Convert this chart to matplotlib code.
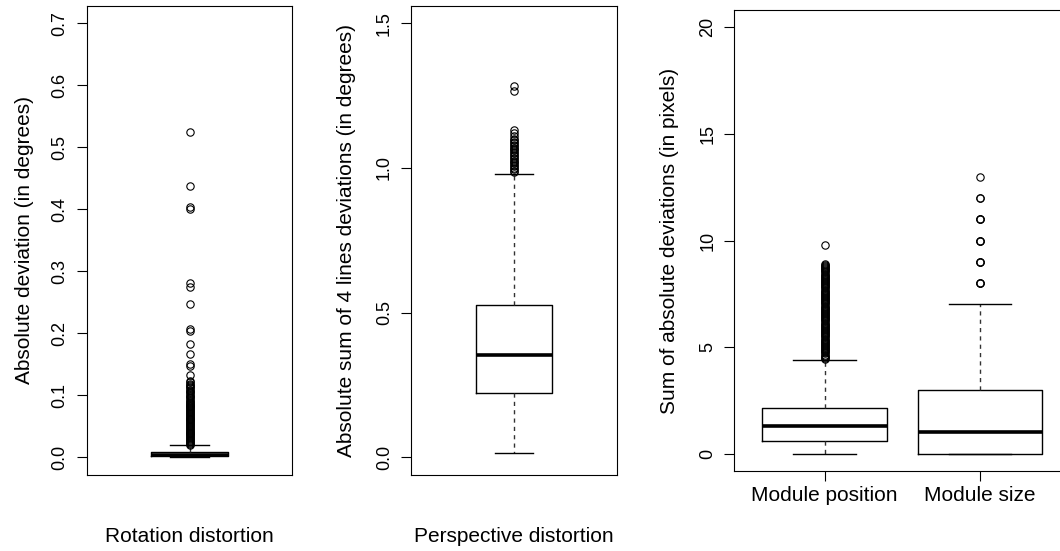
import matplotlib
matplotlib.use("Agg")
import matplotlib.pyplot as plt

plt.rcParams["font.family"] = ["Liberation Sans", "DejaVu Sans"]

# ---- data ----
rot_label = "Rotation distortion"
rot_ylabel = "Absolute deviation (in degrees)"
rot_box = [0.002, 0.0045, 0.009]          # q1, median, q3
rot_whiskers = [0.0, 0.02]
rot_fliers = [0.0205, 0.022, 0.0235, 0.025, 0.0265, 0.028, 0.0295, 0.031,
              0.0325, 0.034, 0.0355, 0.037, 0.0385, 0.040, 0.0415, 0.043,
              0.0445, 0.046, 0.0475, 0.049, 0.0505, 0.052, 0.0535, 0.055,
              0.0565, 0.058, 0.0595, 0.061, 0.0625, 0.064, 0.0655, 0.067,
              0.0685, 0.070, 0.0715, 0.073, 0.0745, 0.076, 0.0775, 0.079,
              0.0805, 0.082, 0.0835, 0.085, 0.0865, 0.088, 0.0895, 0.091,
              0.093, 0.095, 0.097, 0.099, 0.101, 0.103, 0.105, 0.107, 0.109,
              0.111, 0.113, 0.115, 0.117, 0.119, 0.121, 0.123,
              0.1335, 0.1466, 0.150, 0.166, 0.182, 0.204, 0.207, 0.2465,
              0.274, 0.281, 0.401, 0.403, 0.438, 0.524]
rot_yticks = [0.0, 0.1, 0.2, 0.3, 0.4, 0.5, 0.6, 0.7]

persp_label = "Perspective distortion"
persp_ylabel = "Absolute sum of 4 lines deviations (in degrees)"
persp_box = [0.223, 0.352, 0.527]
persp_whiskers = [0.015, 0.979]
persp_fliers = [0.985, 0.99, 0.995, 1.0, 1.005, 1.01, 1.015, 1.02, 1.025,
                1.03, 1.035, 1.04, 1.045, 1.05, 1.055, 1.06, 1.065, 1.07,
                1.075, 1.08, 1.085, 1.09, 1.095, 1.10, 1.11, 1.12, 1.13,
                1.264, 1.282]
persp_yticks = [0.0, 0.5, 1.0, 1.5]

mod_names = ["Module position", "Module size"]
mod_ylabel = "Sum of absolute deviations (in pixels)"
mod_boxes = [[0.61, 1.296, 2.127], [0.0, 1.0, 3.0]]
mod_whiskers = [[0.0, 4.40], [0.0, 7.0]]
pos_fliers = [4.45, 4.50, 4.55, 4.60, 4.65, 4.70, 4.75, 4.80, 4.85, 4.90,
              4.95, 5.00, 5.05, 5.10, 5.15, 5.20, 5.25, 5.30, 5.35, 5.40,
              5.45, 5.50, 5.55, 5.60, 5.65, 5.70, 5.75, 5.80, 5.85, 5.90,
              5.95, 6.00, 6.05, 6.10, 6.15, 6.20, 6.25, 6.30, 6.35, 6.40,
              6.45, 6.50, 6.55, 6.60, 6.65, 6.70, 6.75, 6.80, 6.85, 6.90,
              6.95, 7.00, 7.05, 7.10, 7.15, 7.20, 7.25, 7.30, 7.35, 7.40,
              7.45, 7.50, 7.55, 7.60, 7.65, 7.70, 7.75, 7.80, 7.85, 7.90,
              7.95, 8.00, 8.05, 8.10, 8.15, 8.20, 8.25, 8.30, 8.35, 8.40,
              8.45, 8.50, 8.55, 8.60, 8.65, 8.70, 8.75, 8.80, 8.85, 8.90,
              9.77]
size_fliers = [8, 8, 8, 9, 9, 9, 10, 10, 10, 11, 11, 11, 12, 12, 13]
mod_yticks = [0, 5, 10, 15, 20]


def stats(box, whisk, fliers):
    return {"q1": box[0], "med": box[1], "q3": box[2],
            "whislo": whisk[0], "whishi": whisk[1], "fliers": fliers}


W, H = 1060, 551
fig = plt.figure(figsize=(W / 100, H / 100), dpi=100)


def px_axes(left, top, right, bottom):
    return fig.add_axes([left / W, 1 - bottom / H, (right - left) / W, (bottom - top) / H])


props = dict(
    boxprops=dict(color="black", linewidth=1.0),
    whiskerprops=dict(color="#333333", linewidth=1.0, linestyle=(0, (3, 3))),
    capprops=dict(color="black", linewidth=1.0),
    medianprops=dict(color="black", linewidth=2.6, solid_capstyle="butt"),
    flierprops=dict(marker="o", markerfacecolor="none", markeredgecolor="black",
                    markersize=5.3, markeredgewidth=0.8, linestyle="none"),
)


def style(ax, yticks, ylabel, yoff):
    ax.set_yticks(yticks)
    ax.set_yticklabels([str(t) for t in yticks], rotation=90, va="center")
    ax.tick_params(axis="y", length=7, width=0.8, pad=6, labelsize=13)
    for s in ax.spines.values():
        s.set_linewidth(0.8)
    ax.annotate(ylabel, xy=(0, 0.5), xycoords="axes fraction",
                xytext=(-yoff * 0.72, 0), textcoords="offset points",
                rotation=90, ha="center", va="center", fontsize=15)


ax1 = px_axes(86.7, 5.7, 292.3, 474.7)
ax1.bxp([stats(rot_box, rot_whiskers, rot_fliers)], positions=[1], widths=0.4, **props)
ax1.set_xlim(0.46, 1.54)
ax1.set_ylim(-0.028, 0.728)
ax1.set_xticks([])
style(ax1, rot_yticks, rot_ylabel, 62)
ax1.annotate(rot_label, xy=(0.5, 0), xycoords="axes fraction",
             xytext=(0, -62 * 0.72), textcoords="offset points",
             ha="center", va="center", fontsize=15)

ax2 = px_axes(411, 5.7, 616.7, 474.7)
ax2.bxp([stats(persp_box, persp_whiskers, persp_fliers)], positions=[1], widths=0.4, **props)
ax2.set_xlim(0.46, 1.54)
ax2.set_ylim(-0.06, 1.56)
ax2.set_xticks([])
style(ax2, persp_yticks, persp_ylabel, 64.5)
ax2.annotate(persp_label, xy=(0.5, 0), xycoords="axes fraction",
             xytext=(0, -62 * 0.72), textcoords="offset points",
             ha="center", va="center", fontsize=15)

ax3 = px_axes(734.3, 10.3, 1070.3, 470.7)
ax3.bxp([stats(mod_boxes[0], mod_whiskers[0], pos_fliers),
         stats(mod_boxes[1], mod_whiskers[1], size_fliers)],
        positions=[1, 2], widths=0.8, **props)
ax3.set_xlim(0.42, 2.58)
ax3.set_ylim(-0.8, 20.8)
ax3.set_xticks([1, 2])
ax3.set_xticklabels(mod_names, fontsize=15)
ax3.tick_params(axis="x", length=7, width=0.8, pad=4)
style(ax3, mod_yticks, mod_ylabel, 64.5)

fig.savefig("out.png", dpi=100)
